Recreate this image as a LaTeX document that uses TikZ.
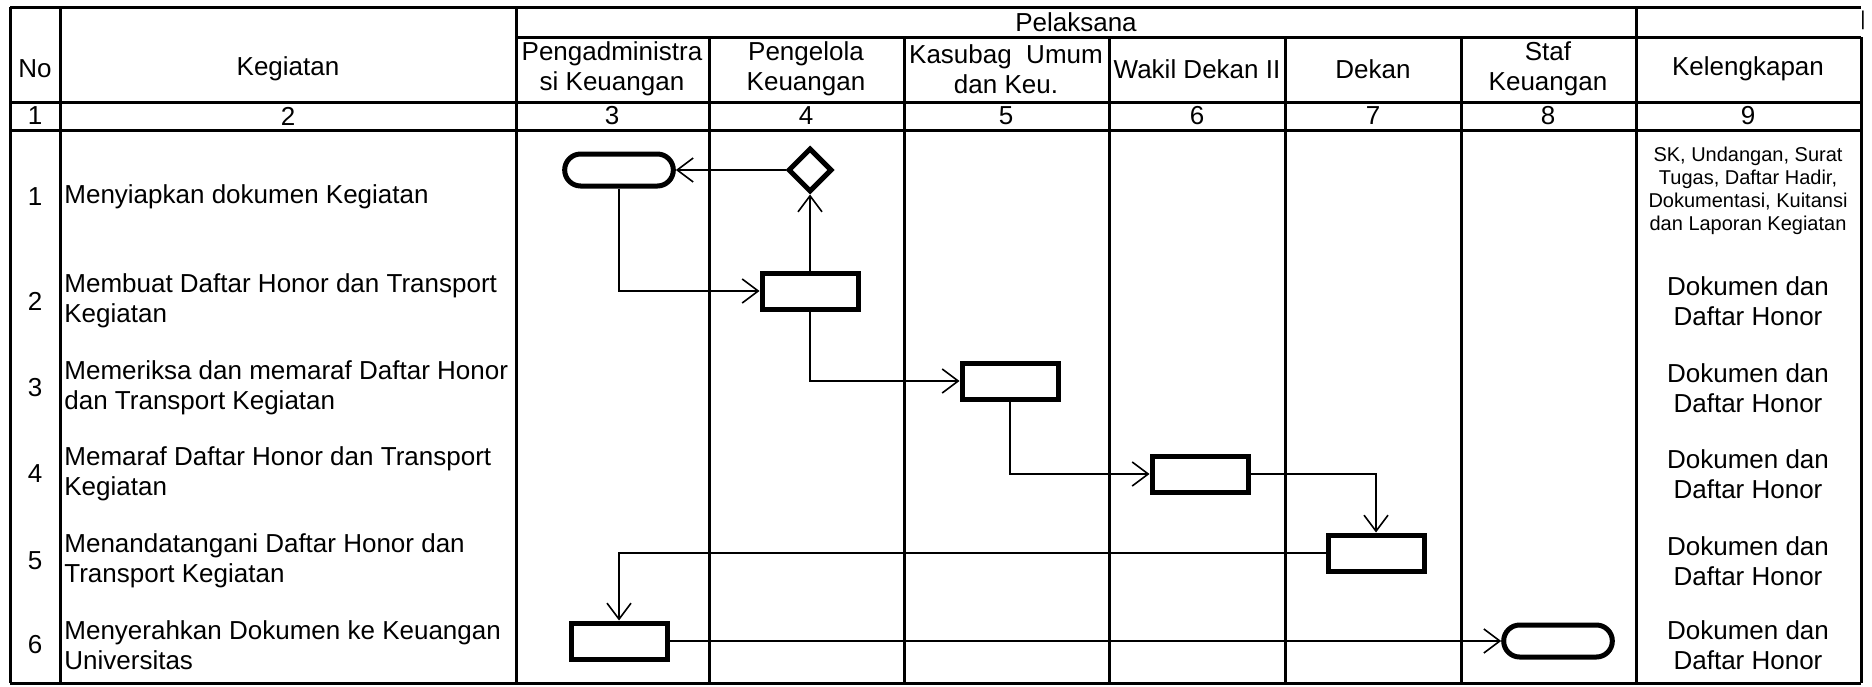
\documentclass[tikz,border=0pt]{standalone}
\usepackage{fontspec}
\setmainfont{Liberation Sans}
\usetikzlibrary{arrows.meta,shapes.geometric,shapes.misc}

\begin{document}
\begin{tikzpicture}[x=0.5pt, y=-0.5pt,
    tbl/.style={line width=1.5pt},
    flow/.style={line width=0.8pt, -{Straight Barb[length=8pt,width=12pt]}},
    box/.style={draw, line width=2.5pt, minimum width=48pt, minimum height=18pt},
    ends/.style={draw, rounded rectangle, line width=2.5pt, minimum width=61pt, minimum height=16pt},
    choice/.style={draw, diamond, aspect=1, line width=2.5pt, minimum size=22pt, inner sep=0pt},
    txt/.style={inner sep=0pt, align=center, font=\fontsize{13pt}{15pt}\selectfont},
    job/.style={inner sep=0pt, align=left, anchor=west, font=\fontsize{13pt}{15pt}\selectfont},
    note/.style={inner sep=0pt, align=center, font=\fontsize{10pt}{11.5pt}\selectfont}]
    \useasboundingbox (0,0) rectangle (1872,686);

    % table frame
    \draw[tbl] (10,7) -- (1861,7);
    \draw[tbl] (516,37) -- (1861,37);
    \draw[tbl] (10,102) -- (1861,102);
    \draw[tbl] (10,130) -- (1861,130);
    \draw[tbl] (10,683) -- (1861,683);
    \draw[tbl] (10,7) -- (10,683);
    \draw[tbl] (60,7) -- (60,683);
    \draw[tbl] (516,7) -- (516,683);
    \draw[tbl] (709,37) -- (709,683);
    \draw[tbl] (904,37) -- (904,683);
    \draw[tbl] (1109,37) -- (1109,683);
    \draw[tbl] (1285,37) -- (1285,683);
    \draw[tbl] (1461,37) -- (1461,683);
    \draw[tbl] (1636,7) -- (1636,683);
    \draw[tbl] (1861,37) -- (1861,683);

    % header
    \node[txt] (pelaksana) at (1076,22) {Pelaksana};
    \node[note] (bar_mark) at (1863,20) {|};
    \node[txt] (no_head) at (35,69) {No};
    \node[txt] (kegiatan_head) at (288,69) {Kegiatan};
    \node[txt] (pengadm_head) at (612,69) {Pengadministra\\si Keuangan};
    \node[txt] (pengelola_head) at (806,69) {Pengelola\\Keuangan};
    \node[txt] (kasubag_head) at (1006,69) {Kasubag\ \ Umum\\dan Keu.};
    \node[txt] (wadek_head) at (1197,69) {Wakil Dekan II};
    \node[txt] (dekan_head) at (1373,69) {Dekan};
    \node[txt] (staf_head) at (1548,69) {Staf\\Keuangan};
    \node[txt] (lengkap_head) at (1748,69) {Kelengkapan};
    \node[txt] at (35,116) {1};
    \node[txt] at (288,116) {2};
    \node[txt] at (612,116) {3};
    \node[txt] at (806,116) {4};
    \node[txt] at (1006,116) {5};
    \node[txt] at (1197,116) {6};
    \node[txt] at (1373,116) {7};
    \node[txt] at (1548,116) {8};
    \node[txt] at (1748,116) {9};

    % rows
    \node[txt] (no_1) at (35,197) {1};
    \node[job] (job_1) at (64,197) {Menyiapkan dokumen Kegiatan};
    \node[note] (need_1) at (1748,191) {SK, Undangan, Surat\\Tugas, Daftar Hadir,\\Dokumentasi, Kuitansi\\dan Laporan Kegiatan};
    \node[txt] (no_2) at (35,301) {2};
    \node[job] (job_2) at (64,301) {Membuat Daftar Honor dan Transport\\Kegiatan};
    \node[txt] (need_2) at (1748,301) {Dokumen dan\\Daftar Honor};
    \node[txt] (no_3) at (35,388) {3};
    \node[job] (job_3) at (64,388) {Memeriksa dan memaraf Daftar Honor\\dan Transport Kegiatan};
    \node[txt] (need_3) at (1748,388) {Dokumen dan\\Daftar Honor};
    \node[txt] (no_4) at (35,474) {4};
    \node[job] (job_4) at (64,474) {Memaraf Daftar Honor dan Transport\\Kegiatan};
    \node[txt] (need_4) at (1748,474) {Dokumen dan\\Daftar Honor};
    \node[txt] (no_5) at (35,561) {5};
    \node[job] (job_5) at (64,561) {Menandatangani Daftar Honor dan\\Transport Kegiatan};
    \node[txt] (need_5) at (1748,561) {Dokumen dan\\Daftar Honor};
    \node[txt] (no_6) at (35,645) {6};
    \node[job] (job_6) at (64,645) {Menyerahkan Dokumen ke Keuangan\\Universitas};
    \node[txt] (need_6) at (1748,645) {Dokumen dan\\Daftar Honor};

    % flow
    \node[ends] (start_doc) at (619,170) {};
    \node[choice] (check_doc) at (810,170) {};
    \node[box] (make_list) at (810,291) {};
    \node[box] (check_list) at (1010,381) {};
    \node[box] (paraf_list) at (1200,474) {};
    \node[box] (sign_list) at (1376,553) {};
    \node[box] (send_doc) at (619,641) {};
    \node[ends] (end_doc) at (1558,641) {};

    \draw[flow] (start_doc.south) |- (make_list.west);
    \draw[flow] (make_list.north) -- (check_doc.south);
    \draw[flow] (check_doc.west) -- (start_doc.east);
    \draw[flow] (make_list.south) |- (check_list.west);
    \draw[flow] (check_list.south) |- (paraf_list.west);
    \draw[flow] (paraf_list.east) -| (sign_list.north);
    \draw[flow] (sign_list.west) -| (send_doc.north);
    \draw[flow] (send_doc.east) -- (end_doc.west);
\end{tikzpicture}
\end{document}
